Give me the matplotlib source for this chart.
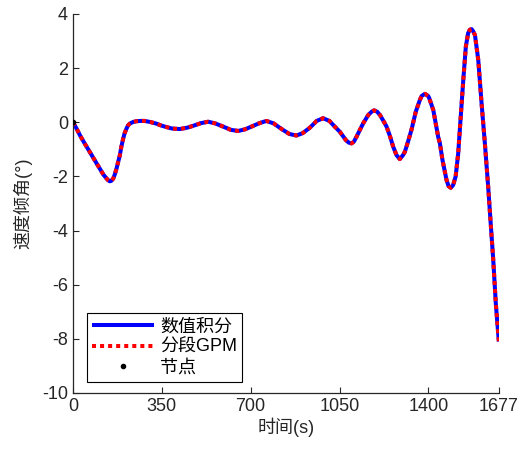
import matplotlib
matplotlib.use("Agg")
import matplotlib.pyplot as plt

plt.rcParams['font.family'] = ['Liberation Sans', 'Noto Sans CJK SC']
plt.rcParams['axes.unicode_minus'] = False

# data
time_s = [0, 14, 28, 47, 67, 86, 106, 120, 133, 140, 146, 152, 159, 165, 172, 178, 185,
          191, 198, 204, 211, 217, 224, 237, 251, 267, 283, 305, 329, 345, 362, 390, 421,
          450, 474, 505, 533, 560, 592, 622, 651, 678, 703, 735, 762, 790, 822, 852, 880,
          905, 933, 960, 985, 1010, 1030, 1051, 1075, 1086, 1097, 1106, 1117, 1130, 1143,
          1163, 1176, 1186, 1198, 1209, 1222, 1235, 1248, 1261, 1274, 1287, 1300, 1307,
          1320, 1333, 1350, 1366, 1373, 1386, 1399, 1403, 1419, 1438, 1445, 1455, 1471,
          1479, 1488, 1497, 1507, 1517, 1526, 1537, 1547, 1556, 1563, 1570, 1576, 1583,
          1596, 1609, 1622, 1635, 1644, 1655, 1665, 1677]
angle_deg = [0, -0.22, -0.48, -0.79, -1.10, -1.40, -1.71, -1.93, -2.08, -2.15, -2.18, -2.16,
             -2.08, -1.93, -1.71, -1.48, -1.22, -0.90, -0.61, -0.40, -0.24, -0.12, -0.05,
             0.01, 0.04, 0.05, 0.05, 0.01, -0.05, -0.11, -0.16, -0.23, -0.25, -0.20, -0.13,
             -0.03, 0.02, -0.04, -0.16, -0.28, -0.32, -0.26, -0.16, -0.03, 0.05, -0.04,
             -0.25, -0.43, -0.49, -0.40, -0.20, 0.05, 0.15, 0.05, -0.15, -0.35, -0.66,
             -0.75, -0.78, -0.72, -0.53, -0.28, -0.04, 0.27, 0.39, 0.44, 0.39, 0.27, 0.06,
             -0.16, -0.50, -0.90, -1.21, -1.36, -1.21, -1.09, -0.70, -0.28, 0.39, 0.82, 0.97,
             1.05, 0.97, 0.89, 0.45, -0.53, -0.78, -1.39, -2.13, -2.36, -2.42, -2.32, -2.0,
             -1.15, 0.08, 1.56, 2.79, 3.29, 3.42, 3.44, 3.36, 3.22, 2.30, 0.70, -0.78, -2.38,
             -3.61, -5.09, -6.69, -8.1]
node_t = [0]
node_v = [0]

xticks = [0, 350, 700, 1050, 1400, 1677]
yticks = [-10, -8, -6, -4, -2, 0, 2, 4]
labels = ['数值积分', '分段GPM', '节点']

fig = plt.figure(figsize=(5.24, 4.59), dpi=100)
ax = fig.add_axes([0.139, 0.1438, 0.813, 0.8257])

ax.plot(time_s, angle_deg, color='#0000ff', lw=2.9, solid_capstyle='butt',
        solid_joinstyle='round', label=labels[0])
ax.plot(time_s, angle_deg, color='#ff0000', lw=2.9, dashes=(1, 1), dash_capstyle='butt',
        dash_joinstyle='round', label=labels[1])
ax.plot(node_t, node_v, 'k.', ms=6, label=labels[2], zorder=5)

ax.set_xlim(0, 1677)
ax.set_ylim(-10, 4)
ax.set_xticks(xticks)
ax.set_yticks(yticks)
ax.tick_params(direction='in', length=4, width=0.8, colors='#262626', labelsize=13)
for s in ['top', 'right']:
    ax.spines[s].set_visible(False)
for s in ['left', 'bottom']:
    ax.spines[s].set_color('#262626')
    ax.spines[s].set_linewidth(0.9)

ax.set_xlabel('时间(s)', fontsize=13, color='#262626', labelpad=2)
ax.set_ylabel('速度倾角(°)', fontsize=13, color='#262626', labelpad=7)

leg = ax.legend(loc='lower left', bbox_to_anchor=(0.033, 0.029), fontsize=13,
                handlelength=3.4, handletextpad=0.35, labelspacing=0.2,
                borderpad=0.3, borderaxespad=0, fancybox=False, framealpha=1)
leg.get_frame().set_edgecolor('black')
leg.get_frame().set_linewidth(0.8)

fig.savefig('out.png', dpi=100)
